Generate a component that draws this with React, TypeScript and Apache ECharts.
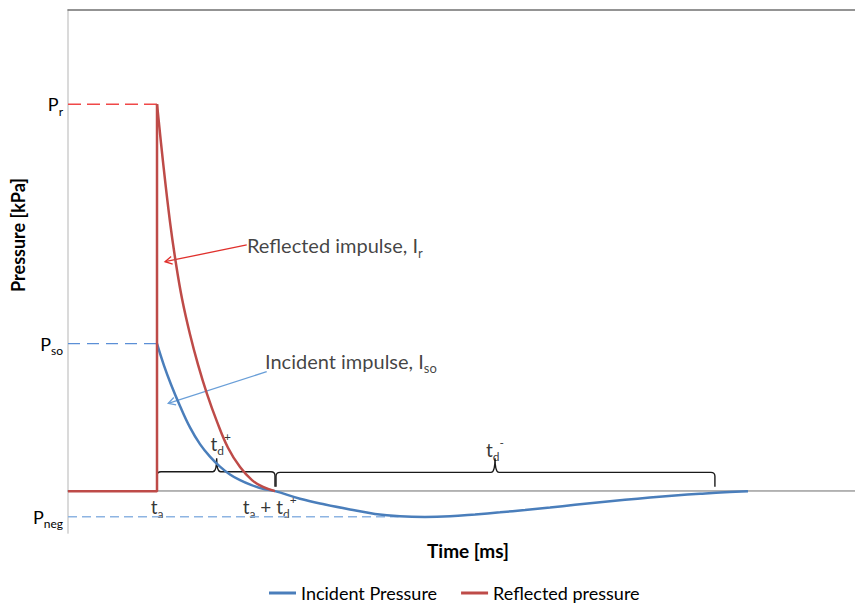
import React, { useEffect, useRef } from "react";
import * as echarts from "echarts";

// ---- data (time in ms, arbitrary units; pressure in kPa, arbitrary units) ----
const T_ARRIVAL = 11.31;
const T_POS_END = 26.3;
const T_NEG_END = 82.2;

const P_R = 74.0;
const P_SO = 28.2;
const P_NEG = -4.9;

const incidentT = [11.31, 12.2, 13.09, 14.23, 15.5, 16.77, 18.04, 19.31, 20.58, 21.86, 23.25, 24.65, 26.3, 29.48, 32.66, 35.83, 39.01, 42.19, 45.36, 48.54, 51.72, 54.89, 58.07, 61.25, 64.42, 67.6, 70.78, 73.95, 77.13, 80.3, 83.48, 86.4];
const incidentP = [28.2, 24.0, 20.4, 16.3, 12.2, 9.0, 6.6, 4.7, 3.2, 2.1, 1.2, 0.5, 0, -1.45, -2.55, -3.5, -4.35, -4.8, -4.93, -4.8, -4.45, -4.05, -3.6, -3.12, -2.62, -2.12, -1.65, -1.22, -0.83, -0.5, -0.2, 0];

const reflectedRiseT = [0, 11.31, 11.31];
const reflectedRiseP = [0, 0, 74.0];
const reflectedDecayT = [11.31, 12.07, 12.96, 13.72, 14.49, 15.5, 16.52, 17.66, 18.93, 20.33, 21.86, 23.38, 24.78, 26.3];
const reflectedDecayP = [74.0, 63.0, 51.5, 43.5, 36.8, 30.0, 24.2, 18.6, 13.3, 8.3, 4.6, 2.1, 0.8, 0];

const yLabelValues = [P_NEG, P_SO, P_R];
const yLabelNames = ["neg", "so", "r"];

// braces: [start, end, tip, startBottom, endBottom, level, tipTop]
const braces = [
  [T_ARRIVAL, T_POS_END, 18.89, 0.3, 0.86, 3.7, 6.3],
  [26.43, T_NEG_END, 54.26, 0.86, 0.86, 3.6, 6.3],
];

// arrows: [fromT, fromP, toT, toP]
const reflectedArrow = [[22.71, 47.07, 12.33, 43.88]];
const incidentArrow = [[25.25, 22.85, 12.74, 16.8]];

// annotation labels: [t, p]
const annReflected = [22.74, 47.0];
const annIncident = [25.03, 24.9];
const annTdPlus = [18.1, 9.2];
const annTdMinus = [53.1, 7.9];
const annTa = [T_ARRIVAL, -2.85];
const annTaTd = [22.2, -2.85];

const FONT = "Lato, 'Open Sans', sans-serif";
const BLUE = "#4a7ebb";
const RED = "#be4b48";

const richAxis = {
  m: { fontSize: 18, lineHeight: 26, verticalAlign: "middle", color: "#000", fontFamily: FONT },
  s: { fontSize: 12, lineHeight: 12, verticalAlign: "bottom", color: "#000", fontFamily: FONT },
  u: { fontSize: 12, lineHeight: 12, verticalAlign: "top", color: "#000", fontFamily: FONT },
};
const richBig = {
  m: { fontSize: 20, lineHeight: 28, verticalAlign: "middle", color: "#111", fontFamily: FONT },
  s: { fontSize: 13, lineHeight: 13, verticalAlign: "bottom", color: "#111", fontFamily: FONT },
  u: { fontSize: 13, lineHeight: 13, verticalAlign: "top", color: "#111", fontFamily: FONT },
};
const richT = {
  m: { fontSize: 19, lineHeight: 26, verticalAlign: "middle", color: "#000", fontFamily: FONT },
  s: { fontSize: 12, lineHeight: 12, verticalAlign: "bottom", color: "#000", fontFamily: FONT },
  u: { fontSize: 12, lineHeight: 12, verticalAlign: "top", color: "#000", fontFamily: FONT },
};

function zip(a: number[], b: number[]) {
  return a.map((v, i) => [v, b[i]]);
}

export default function App() {
  const ref = useRef<HTMLDivElement>(null);
  useEffect(() => {
    document.body.style.margin = "0";
    const chart = echarts.init(ref.current!, null, { renderer: "svg" });

    const arrowRender = (params: any, api: any) => {
      const p1 = api.coord([api.value(0), api.value(1)]);
      const p2 = api.coord([api.value(2), api.value(3)]);
      const ang = Math.atan2(p2[1] - p1[1], p2[0] - p1[0]);
      const L = 8;
      const a = 0.5;
      const color = api.visual("color");
      return {
        type: "group",
        children: [
          { type: "line", shape: { x1: p1[0], y1: p1[1], x2: p2[0], y2: p2[1] }, style: { stroke: color, lineWidth: 1.3 } },
          {
            type: "polyline",
            shape: {
              points: [
                [p2[0] - L * Math.cos(ang - a), p2[1] - L * Math.sin(ang - a)],
                [p2[0], p2[1]],
                [p2[0] - L * Math.cos(ang + a), p2[1] - L * Math.sin(ang + a)],
              ],
            },
            style: { stroke: color, fill: "none", lineWidth: 1.3 },
          },
        ],
      };
    };

    const braceRender = (params: any, api: any) => {
      const a = api.coord([api.value(0), api.value(3)]);
      const l = api.coord([api.value(0), api.value(5)]);
      const t = api.coord([api.value(2), api.value(6)]);
      const b = api.coord([api.value(1), api.value(4)]);
      const ly = l[1];
      const r = 4;
      const d = `M${a[0]} ${a[1]} L${a[0]} ${ly + r} Q${a[0]} ${ly} ${a[0] + r} ${ly} L${t[0] - r} ${ly} Q${t[0]} ${ly} ${t[0]} ${t[1]} Q${t[0]} ${ly} ${t[0] + r} ${ly} L${b[0] - r} ${ly} Q${b[0]} ${ly} ${b[0]} ${ly + r} L${b[0]} ${b[1]}`;
      return { type: "path", shape: { pathData: d }, style: { stroke: "#1a1a1a", fill: "none", lineWidth: 1.4 } };
    };

    const label = (pos: number[], text: string, align: string, rich: any) => ({
      value: pos,
      label: { show: true, position: "inside", formatter: text, align, verticalAlign: "middle", rich },
    });

    chart.setOption({
      animation: false,
      textStyle: { fontFamily: FONT },
      grid: { left: 68, right: 0, top: 10, bottom: 71, outerBoundsMode: "none" },
      legend: {
        data: ["Incident Pressure", "Reflected pressure"],
        left: 264,
        top: 579,
        icon: "rect",
        itemWidth: 27,
        itemHeight: 3,
        itemGap: 24,
        textStyle: { fontSize: 18, color: "#000", fontFamily: FONT },
      },
      xAxis: [
        {
          type: "value",
          min: 0,
          max: 100,
          position: "bottom",
          axisLine: { show: true, lineStyle: { color: "#8a8a8a", width: 1.5 } },
          axisTick: { show: false },
          axisLabel: { show: false },
          splitLine: { show: false },
          name: "Time [ms]",
          nameLocation: "middle",
          nameGap: 8,
          nameTextStyle: { fontSize: 19, fontWeight: "bold", color: "#000", fontFamily: FONT, padding: [0, 0, 0, 13] },
        },
        {
          type: "value",
          min: 0,
          max: 100,
          position: "top",
          axisLine: { show: true, onZero: false, lineStyle: { color: "#707070", width: 1.5 } },
          axisTick: { show: false },
          axisLabel: { show: false },
          splitLine: { show: false },
        },
      ],
      yAxis: {
        type: "value",
        min: -8,
        max: 92,
        axisLine: { show: true, lineStyle: { color: "#d4d4d4", width: 1.7 } },
        axisTick: { show: false },
        splitLine: { show: false },
        axisLabel: {
          show: true,
          customValues: yLabelValues,
          margin: 5,
          formatter: (v: number) => {
            const i = yLabelValues.findIndex((x) => Math.abs(x - v) < 1e-6);
            return `{m|P}{s|${yLabelNames[i] ?? ""}}`;
          },
          rich: richAxis,
        },
      },
      graphic: [
        {
          type: "text",
          x: 18,
          y: 235,
          rotation: Math.PI / 2,
          style: { text: "Pressure [kPa]", font: `bold 18px ${FONT}`, fill: "#000", align: "center", verticalAlign: "middle" },
        },
      ],
      series: [
        {
          type: "line",
          data: [[0, 0], [100, 0]],
          symbol: "none",
          silent: true,
          lineStyle: { color: "#c4c4c4", width: 1 },
        },
        {
          type: "line",
          data: [[0, P_NEG], [42, P_NEG]],
          symbol: "none",
          silent: true,
          lineStyle: { color: "#8db4e2", width: 1.5, type: [9, 5] },
        },
        {
          type: "line",
          data: [[0, P_SO], [T_ARRIVAL, P_SO]],
          symbol: "none",
          silent: true,
          lineStyle: { color: "#5b8fd6", width: 1.3, type: [12, 7] },
        },
        {
          type: "line",
          data: [[0, P_R], [T_ARRIVAL, P_R]],
          symbol: "none",
          silent: true,
          lineStyle: { color: "#f04848", width: 1.5, type: [13, 6] },
        },
        {
          name: "Incident Pressure",
          type: "line",
          data: zip(incidentT, incidentP),
          symbol: "none",
          smooth: 0.4,
          color: BLUE,
          lineStyle: { color: BLUE, width: 2.5 },
        },
        {
          name: "Reflected pressure",
          type: "line",
          data: zip(reflectedRiseT, reflectedRiseP),
          symbol: "none",
          color: RED,
          lineStyle: { color: RED, width: 2.5 },
        },
        {
          name: "Reflected pressure",
          type: "line",
          data: zip(reflectedDecayT, reflectedDecayP),
          symbol: "none",
          smooth: 0.4,
          color: RED,
          lineStyle: { color: RED, width: 2.5 },
        },
        {
          type: "custom",
          renderItem: braceRender,
          data: braces,
          silent: true,
        },
        {
          type: "custom",
          renderItem: arrowRender,
          data: reflectedArrow,
          color: "#e0302c",
          silent: true,
        },
        {
          type: "custom",
          renderItem: arrowRender,
          data: incidentArrow,
          color: "#6a9fd8",
          silent: true,
        },
        {
          type: "scatter",
          symbolSize: 1,
          itemStyle: { color: "rgba(0,0,0,0)" },
          silent: true,
          data: [
            label(annReflected, "{m|Reflected impulse, I}{s|r}", "left", richBig),
            label(annIncident, "{m|Incident impulse, I}{s|so}", "left", richBig),
            label(annTdPlus, "{m|t}{s|d}{u|+}", "left", richT),
            label(annTdMinus, "{m|t}{s|d}{u|-}", "left", richT),
            label(annTa, "{m|t}{s|a}", "center", richT),
            label(annTaTd, "{m|t}{s|a}{m| + t}{s|d}{u|+}", "left", richT),
          ],
        },
      ],
    });
    return () => chart.dispose();
  }, []);
  return <div ref={ref} style={{ width: 855, height: 604 }} />;
}
